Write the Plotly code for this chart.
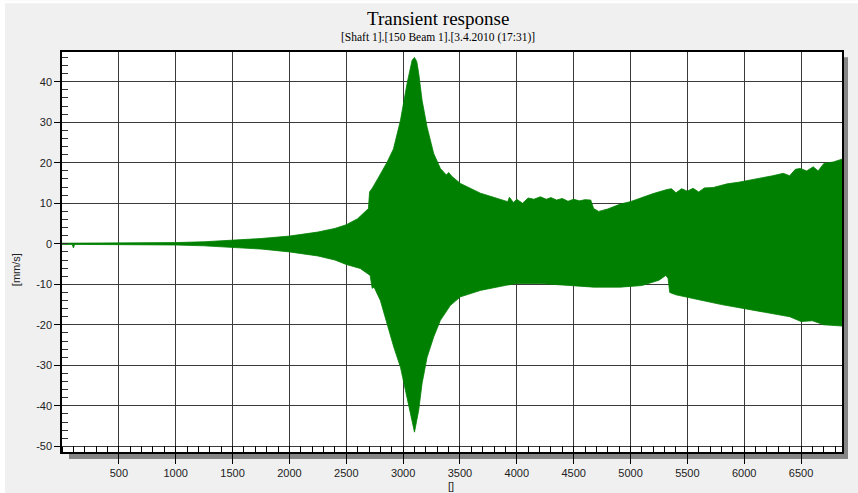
import plotly.graph_objects as go

# ---- data ----
upper_x = [0, 90, 105, 120, 500, 1000, 1250, 1500, 1750, 2000, 2250, 2400, 2500, 2600,
           2695, 2705, 2730, 2780, 2860, 2915, 2977, 3035, 3079, 3100, 3120, 3137, 3167,
           3211, 3269, 3328, 3380, 3401, 3430, 3504, 3600, 3680, 3782, 3882, 3920, 3935,
           3970, 4000, 4050, 4100, 4150, 4207, 4260, 4300, 4350, 4400, 4450, 4500, 4550,
           4600, 4650, 4676, 4720, 4800, 4910, 4998, 5100, 5200, 5321, 5360, 5400, 5450,
           5500, 5550, 5600, 5650, 5728, 5760, 5850, 5950, 6053, 6150, 6250, 6343, 6400,
           6450, 6492, 6550, 6607, 6650, 6700, 6783, 6860]
upper_y = [0.15, 0.15, 0.3, 0.15, 0.15, 0.3, 0.5, 0.9, 1.3, 1.9, 2.9, 3.8, 4.7, 6.2,
           8.7, 12.8, 13.8, 16.2, 20.2, 23.4, 30.5, 39.6, 45.3, 46.0, 45.0, 42.1, 35.4,
           28.8, 22.3, 18.6, 17.0, 17.6, 16.6, 14.9, 13.6, 12.5, 11.6, 10.7, 10.4, 11.5,
           10.2, 11.0, 10.0, 11.3, 11.0, 11.6, 11.0, 11.4, 10.8, 11.2, 10.5, 11.0, 10.6,
           10.9, 10.8, 8.7, 8.0, 8.6, 9.8, 10.4, 11.5, 12.4, 13.4, 13.6, 12.6, 13.6,
           13.0, 13.7, 12.8, 13.8, 13.9, 14.1, 14.8, 15.2, 15.7, 16.3, 16.8, 17.4, 16.8,
           18.4, 18.6, 18.0, 19.0, 18.0, 19.8, 20.2, 20.9]

lower_x = [0, 90, 100, 112, 500, 1000, 1250, 1500, 1750, 2000, 2250, 2400, 2500, 2623,
           2710, 2728, 2745, 2800, 2860, 2918, 2977, 3020, 3064, 3100, 3137, 3167, 3211,
           3269, 3328, 3416, 3504, 3680, 3915, 4000, 4207, 4383, 4676, 4910, 5100, 5250,
           5310, 5330, 5345, 5400, 5450, 5600, 5800, 6000, 6200, 6400, 6500, 6600, 6700,
           6860]
lower_y = [-0.15, -0.15, -1.0, -0.15, -0.15, -0.3, -0.5, -0.9, -1.3, -2.0, -3.0, -4.0, -5.1, -6.1,
           -7.8, -11.0, -10.7, -14.0, -19.7, -25.5, -30.5, -36.2, -41.9, -46.5, -41.1, -34.4, -28.0,
           -23.0, -18.9, -15.2, -13.1, -11.5, -10.2, -9.8, -9.8, -10.2, -10.7, -10.7, -10.3, -9.0,
           -7.8, -8.5, -12.0, -12.6, -13.0, -13.8, -15.0, -16.0, -17.0, -18.0, -19.2, -19.0, -20.0,
           -20.3]

x_ticks = [500, 1000, 1500, 2000, 2500, 3000, 3500, 4000, 4500, 5000, 5500, 6000, 6500]
y_ticks = [-50, -40, -30, -20, -10, 0, 10, 20, 30, 40]

title = "Transient response"
subtitle = "[Shaft 1].[150 Beam 1].[3.4.2010 (17:31)]"

# ---- figure ----
poly_x = upper_x + lower_x[::-1]
poly_y = upper_y + lower_y[::-1]

fig = go.Figure()
fig.add_trace(go.Scatter(
    x=poly_x, y=poly_y, mode="lines", fill="toself",
    line=dict(color="#008000", width=0.8), fillcolor="#008000",
    hoverinfo="skip", showlegend=False))

W, H = 858, 493
L, R, T, B = 62, 16, 51.7, 41
pw, ph = W - L - R, H - T - B

def px(x):  # pixel -> paper x
    return (x - L) / pw

def py(y):  # pixel -> paper y
    return (H - B - y) / ph

axis_font = dict(family="Liberation Sans, Arial, sans-serif", size=11, color="#222")
serif = "Liberation Serif, Times New Roman, serif"

fig.update_layout(
    width=W, height=H,
    margin=dict(l=L, r=R, t=T, b=B),
    paper_bgcolor="#f0f0f0", plot_bgcolor="white",
    showlegend=False,
    xaxis=dict(
        range=[0, 6860], tickmode="array", tickvals=x_ticks,
        ticktext=[str(v) for v in x_ticks],
        showgrid=True, gridcolor="#3a3a3a", gridwidth=1,
        zeroline=False, showline=True, linecolor="black", linewidth=1.5, mirror=True,
        ticks="outside", ticklen=10, tickcolor="black", tickwidth=1,
        tickfont=axis_font,
        minor=dict(dtick=100, tick0=0, ticks="inside", ticklen=6, tickcolor="black",
                   showgrid=False),
    ),
    yaxis=dict(
        range=[-51.4, 47.35], tickmode="array", tickvals=y_ticks,
        ticktext=[str(v) for v in y_ticks],
        showgrid=True, gridcolor="#3a3a3a", gridwidth=1,
        zeroline=False, showline=True, linecolor="black", linewidth=1.5, mirror=True,
        ticks="outside", ticklen=6, tickcolor="black", tickwidth=1,
        tickfont=axis_font,
        minor=dict(dtick=2, tick0=0, ticks="inside", ticklen=6, tickcolor="#333",
                   showgrid=False),
    ),
    shapes=[
        # drop shadow right and bottom of plot frame
        dict(type="rect", xref="paper", yref="paper", layer="below",
             x0=1.0, x1=px(848), y0=py(459), y1=py(57),
             fillcolor="#858585", line=dict(width=0)),
        dict(type="rect", xref="paper", yref="paper", layer="below",
             x0=px(69), x1=px(848), y0=py(459), y1=0,
             fillcolor="#858585", line=dict(width=0)),
        # white page border on top and left
        dict(type="rect", xref="paper", yref="paper", layer="below",
             x0=px(0), x1=px(W), y0=py(3), y1=py(0),
             fillcolor="white", line=dict(width=0)),
        dict(type="rect", xref="paper", yref="paper", layer="below",
             x0=px(0), x1=px(5), y0=py(H), y1=py(0),
             fillcolor="white", line=dict(width=0)),
    ],
    annotations=[
        dict(text=title, xref="paper", yref="paper", x=px(438), y=py(18),
             showarrow=False, xanchor="center", yanchor="middle",
             font=dict(family=serif, size=19, color="black")),
        dict(text=subtitle, xref="paper", yref="paper", x=px(438), y=py(37),
             showarrow=False, xanchor="center", yanchor="middle",
             font=dict(family=serif, size=11.5, color="black")),
        dict(text="[mm/s]", xref="paper", yref="paper", x=px(16), y=py(270),
             showarrow=False, xanchor="center", yanchor="middle", textangle=-90,
             font=axis_font),
        dict(text="[]", xref="paper", yref="paper", x=px(451), y=py(486),
             showarrow=False, xanchor="center", yanchor="middle",
             font=axis_font),
    ],
)

fig.write_html(
    "out.html",
    config={"displayModeBar": False},
    post_script="document.body.style.margin='0px';document.body.style.overflow='hidden';",
)
